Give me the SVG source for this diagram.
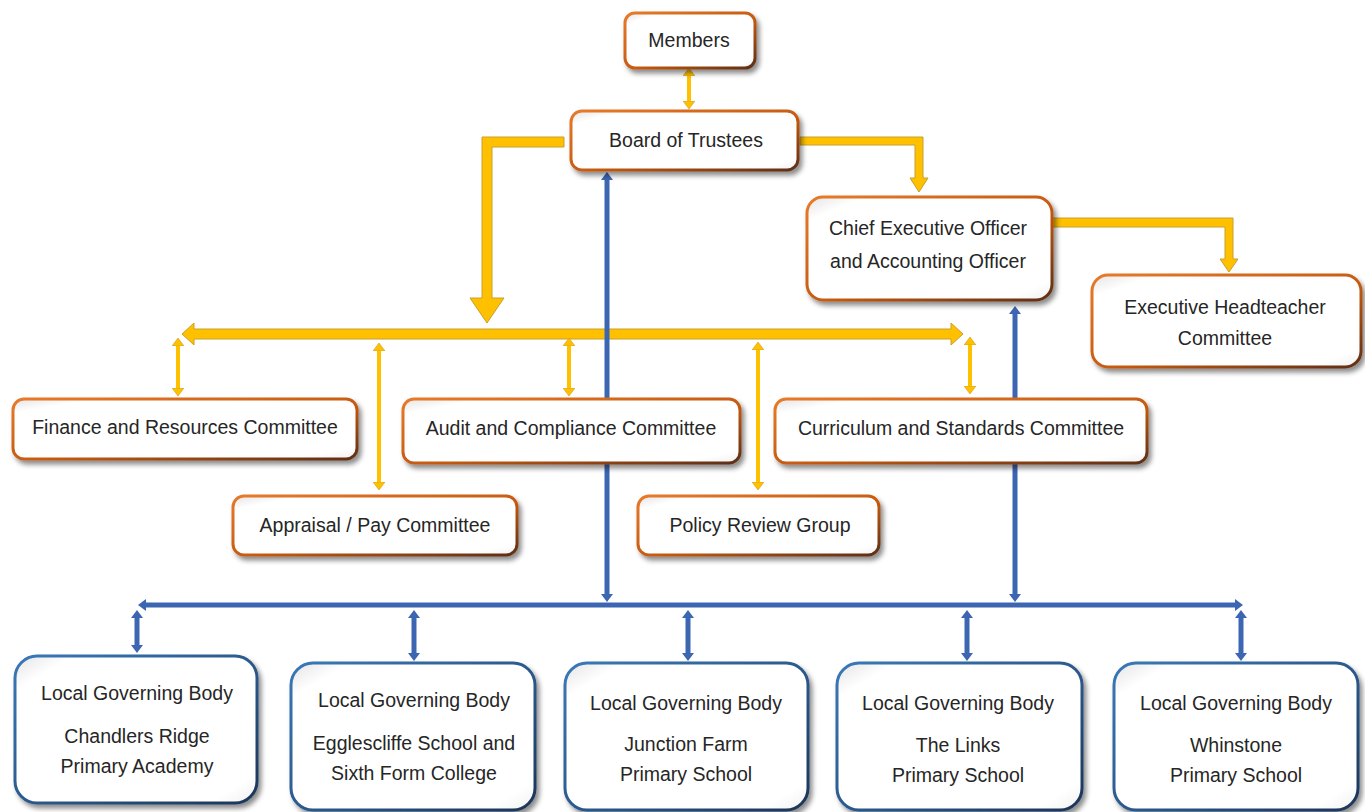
<svg xmlns="http://www.w3.org/2000/svg" width="1365" height="812" viewBox="0 0 1365 812">
<style>
  .box { fill: url(#boxFill); stroke-width: 3; filter: url(#shadow); }
  .org { stroke: url(#orangeEdge); }
  .blu { stroke: url(#blueEdge); }
  .t { font-family: "Liberation Sans", Arial, sans-serif; font-size: 19.5px; fill: #262626; text-anchor: middle; }
  .gthin { stroke: #FFC000; stroke-width: 4; fill: none; marker-start: url(#gHead); marker-end: url(#gHead); }
  .gbig { fill: #FFC000; stroke: #C8A02A; stroke-width: 1; }
  .bl { stroke: #3C66B1; stroke-width: 5; fill: none; }
  .bl2 { marker-start: url(#bHead); marker-end: url(#bHead); }
</style>
<defs>
  <linearGradient id="orangeEdge" x1="0" y1="0" x2="1" y2="1">
    <stop offset="0" stop-color="#E87A2A"/>
    <stop offset="0.55" stop-color="#C55A11"/>
    <stop offset="1" stop-color="#5E2E12"/>
  </linearGradient>
  <linearGradient id="blueEdge" x1="0" y1="0" x2="1" y2="1">
    <stop offset="0" stop-color="#3A78B8"/>
    <stop offset="0.55" stop-color="#2A5789"/>
    <stop offset="1" stop-color="#1C3557"/>
  </linearGradient>
  <linearGradient id="boxFill" x1="0" y1="0" x2="1" y2="1">
    <stop offset="0" stop-color="#E4E4E4"/>
    <stop offset="0.12" stop-color="#FFFFFF"/>
    <stop offset="0.9" stop-color="#FFFFFF"/>
    <stop offset="1" stop-color="#F0F0F0"/>
  </linearGradient>
  <filter id="shadow" x="-10%" y="-10%" width="125%" height="130%">
    <feDropShadow dx="3" dy="4" stdDeviation="2.5" flood-color="#000" flood-opacity="0.45"/>
  </filter>
  <marker id="gHead" viewBox="0 0 8 12" refX="0" refY="6" markerWidth="8" markerHeight="12" markerUnits="userSpaceOnUse" orient="auto-start-reverse">
    <path d="M0,0 L8,6 L0,12 Z" fill="#FFC000" stroke="#C8A02A" stroke-width="0.6"/>
  </marker>
  <marker id="bHead" viewBox="0 0 8 12" refX="0" refY="6" markerWidth="8" markerHeight="12" markerUnits="userSpaceOnUse" orient="auto-start-reverse">
    <path d="M0,0 L8,6 L0,12 Z" fill="#3C66B1"/>
  </marker>
</defs>
<rect width="1365" height="812" fill="#FFFFFF"/>

<g id="connectors">
  <!-- gold elbow arrows -->
  <path class="gbig" d="M564,137 L482,137 L482,298 L470,298 L487,323 L504,298 L492,298 L492,147 L564,147 Z"/>
  <path class="gbig" d="M800,137 L923,137 L923,178 L928,178 L919,192 L910,178 L915,178 L915,145 L800,145 Z"/>
  <path class="gbig" d="M1052,218 L1233,218 L1233,259 L1238,259 L1229,272 L1220,259 L1225,259 L1225,227 L1052,227 Z"/>
  <!-- gold bus -->
  <path class="gbig" d="M182,334 L194,323 L194,329 L951,329 L951,323 L963,334 L951,345 L951,339 L194,339 L194,345 Z"/>
  <!-- thin gold double arrows -->
  <line class="gthin" x1="689" y1="76" x2="689" y2="101"/>
  <line class="gthin" x1="178" y1="346" x2="178" y2="388"/>
  <line class="gthin" x1="379" y1="351" x2="379" y2="482"/>
  <line class="gthin" x1="569" y1="346" x2="569" y2="388"/>
  <line class="gthin" x1="758" y1="350" x2="758" y2="482"/>
  <line class="gthin" x1="970" y1="345" x2="970" y2="386"/>
  <!-- blue lines -->
  <line class="bl bl2" x1="607" y1="180" x2="607" y2="594"/>
  <line class="bl bl2" x1="1015" y1="314" x2="1015" y2="594"/>
  <line class="bl bl2" x1="146" y1="605" x2="1235" y2="605"/>
  <line class="bl bl2" x1="137" y1="618" x2="137" y2="645"/>
  <line class="bl bl2" x1="414" y1="618" x2="414" y2="653"/>
  <line class="bl bl2" x1="688" y1="618" x2="688" y2="653"/>
  <line class="bl bl2" x1="967" y1="618" x2="967" y2="653"/>
  <line class="bl bl2" x1="1241" y1="618" x2="1241" y2="653"/>
</g>

<g id="members">
  <rect class="box org" x="625" y="13" width="130" height="55" rx="10"/>
  <text class="t" x="689" y="47">Members</text>
</g>
<g id="board">
  <rect class="box org" x="571" y="111" width="227" height="59" rx="11"/>
  <text class="t" x="686" y="147">Board of Trustees</text>
</g>
<g id="ceo">
  <rect class="box org" x="807" y="197" width="245" height="103" rx="16"/>
  <text class="t" x="928" y="235">Chief Executive Officer</text>
  <text class="t" x="928" y="268">and Accounting Officer</text>
</g>
<g id="exec">
  <rect class="box org" x="1092" y="275" width="269" height="92" rx="16"/>
  <text class="t" x="1225" y="314">Executive Headteacher</text>
  <text class="t" x="1225" y="345">Committee</text>
</g>
<g id="finance">
  <rect class="box org" x="13" y="399" width="344" height="60" rx="11"/>
  <text class="t" x="185" y="434">Finance and Resources Committee</text>
</g>
<g id="audit">
  <rect class="box org" x="403" y="399" width="337" height="64" rx="11"/>
  <text class="t" x="571" y="435">Audit and Compliance Committee</text>
</g>
<g id="curriculum">
  <rect class="box org" x="775" y="399" width="372" height="64" rx="11"/>
  <text class="t" x="961" y="435">Curriculum and Standards Committee</text>
</g>
<g id="appraisal">
  <rect class="box org" x="233" y="496" width="284" height="59" rx="11"/>
  <text class="t" x="375" y="532">Appraisal / Pay Committee</text>
</g>
<g id="policy">
  <rect class="box org" x="638" y="496" width="241" height="59" rx="11"/>
  <text class="t" x="760" y="532">Policy Review Group</text>
</g>

<g id="lgb1">
  <rect class="box blu" x="15" y="656" width="242" height="147" rx="22"/>
  <text class="t" x="137" y="700">Local Governing Body</text>
  <text class="t" x="137" y="743">Chandlers Ridge</text>
  <text class="t" x="137" y="773">Primary Academy</text>
</g>
<g id="lgb2">
  <rect class="box blu" x="291" y="663" width="244" height="147" rx="22"/>
  <text class="t" x="414" y="707">Local Governing Body</text>
  <text class="t" x="414" y="750">Egglescliffe School and</text>
  <text class="t" x="414" y="780">Sixth Form College</text>
</g>
<g id="lgb3">
  <rect class="box blu" x="565" y="663" width="243" height="147" rx="22"/>
  <text class="t" x="686" y="710">Local Governing Body</text>
  <text class="t" x="686" y="751">Junction Farm</text>
  <text class="t" x="686" y="781">Primary School</text>
</g>
<g id="lgb4">
  <rect class="box blu" x="837" y="663" width="245" height="147" rx="22"/>
  <text class="t" x="958" y="710">Local Governing Body</text>
  <text class="t" x="958" y="752">The Links</text>
  <text class="t" x="958" y="782">Primary School</text>
</g>
<g id="lgb5">
  <rect class="box blu" x="1114" y="663" width="244" height="147" rx="22"/>
  <text class="t" x="1236" y="710">Local Governing Body</text>
  <text class="t" x="1236" y="752">Whinstone</text>
  <text class="t" x="1236" y="782">Primary School</text>
</g>
</svg>
